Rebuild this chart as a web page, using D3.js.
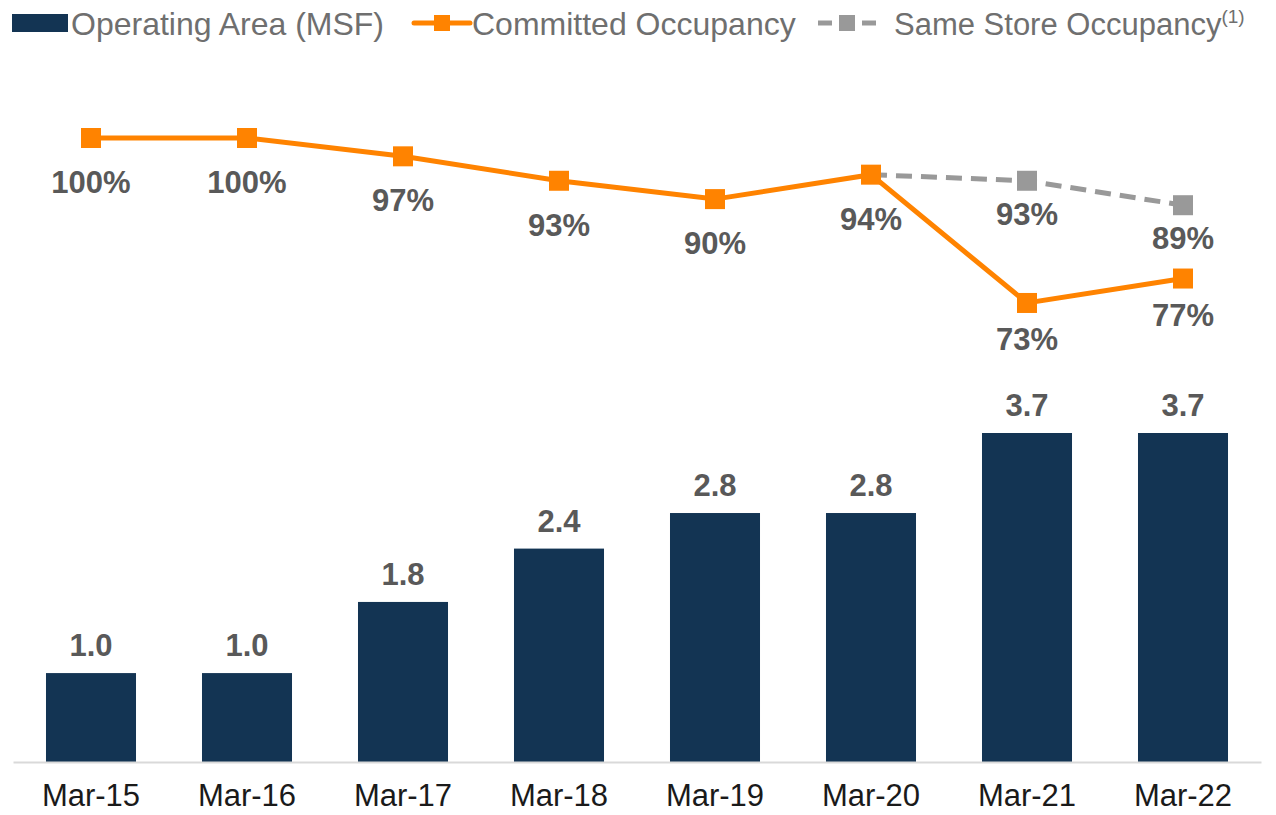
<!DOCTYPE html>
<html lang="en">
<head>
    <meta charset="UTF-8">
    <title>Operating Area and Occupancy</title>
    <script src="https://d3js.org/d3.v7.min.js"></script>
    <style>
        body { margin: 0; background: #fff; }
        text { font-family: "Liberation Sans", Arial, sans-serif; }
    </style>
</head>
<body>
    <script>
        const w = 1276;
        const h = 815;

        const periods = ["Mar-15", "Mar-16", "Mar-17", "Mar-18", "Mar-19", "Mar-20", "Mar-21", "Mar-22"];
        const operatingArea = [1.0, 1.0, 1.8, 2.4, 2.8, 2.8, 3.7, 3.7];
        const committedOcc = [100, 100, 97, 93, 90, 94, 73, 77];
        const sameStoreOcc = [null, null, null, null, null, 94, 93, 89];

        const navy = "#133453";
        const orange = "#ff8300";
        const grey = "#999999";

        const svg = d3.select("body")
            .append("svg")
            .attr("width", w)
            .attr("height", h);

        const x = d3.scaleBand()
            .domain(periods)
            .range([13, 1261])
            .paddingInner(0.423)
            .paddingOuter(0.2115);

        const yBar = d3.scaleLinear().domain([0, 3.7]).range([762, 433]);
        const yOcc = d3.scaleLinear().domain([0, 100]).range([749, 138]);

        // bars
        svg.selectAll("rect.bar")
            .data(operatingArea)
            .enter()
            .append("rect")
            .attr("class", "bar")
            .attr("x", (d, i) => x(periods[i]))
            .attr("y", d => yBar(d))
            .attr("width", x.bandwidth())
            .attr("height", d => yBar(0) - yBar(d))
            .attr("fill", navy);

        svg.selectAll("text.barlabel")
            .data(operatingArea)
            .enter()
            .append("text")
            .attr("class", "barlabel")
            .attr("x", (d, i) => x(periods[i]) + x.bandwidth() / 2)
            .attr("y", d => yBar(d) - 17)
            .attr("text-anchor", "middle")
            .attr("font-size", 31)
            .attr("font-weight", "bold")
            .attr("fill", "#595959")
            .text(d => d.toFixed(1));

        // x axis
        const xAxis = svg.append("g")
            .attr("transform", "translate(0,762)")
            .call(d3.axisBottom(x).tickSize(0).tickSizeOuter(0).tickPadding(22));
        xAxis.select(".domain").attr("stroke", "#d9d9d9").attr("stroke-width", 2);
        xAxis.selectAll("text")
            .attr("font-size", 31)
            .attr("fill", "#1a1a1a")
            .style("font-family", "'Liberation Sans', Arial, sans-serif");

        const cx = i => x(periods[i]) + x.bandwidth() / 2;

        // same store line (dashed)
        const ssPts = sameStoreOcc.map((v, i) => ({ v, i })).filter(d => d.v !== null);
        svg.append("path")
            .datum(ssPts)
            .attr("fill", "none")
            .attr("stroke", grey)
            .attr("stroke-width", 5)
            .attr("stroke-dasharray", "16,9")
            .attr("d", d3.line().x(d => cx(d.i)).y(d => yOcc(d.v)));

        svg.selectAll("rect.ssmark")
            .data(ssPts.slice(1))
            .enter()
            .append("rect")
            .attr("class", "ssmark")
            .attr("x", d => cx(d.i) - 10)
            .attr("y", d => yOcc(d.v) - 10)
            .attr("width", 20)
            .attr("height", 20)
            .attr("fill", grey);

        svg.selectAll("text.sslabel")
            .data(ssPts.slice(1))
            .enter()
            .append("text")
            .attr("class", "sslabel")
            .attr("x", d => cx(d.i))
            .attr("y", d => yOcc(d.v) + 44)
            .attr("text-anchor", "middle")
            .attr("font-size", 31)
            .attr("font-weight", "bold")
            .attr("fill", "#595959")
            .text(d => d.v + "%");

        // committed occupancy line
        svg.append("path")
            .datum(committedOcc)
            .attr("fill", "none")
            .attr("stroke", orange)
            .attr("stroke-width", 5)
            .attr("d", d3.line().x((d, i) => cx(i)).y(d => yOcc(d)));

        svg.selectAll("rect.cmark")
            .data(committedOcc)
            .enter()
            .append("rect")
            .attr("class", "cmark")
            .attr("x", (d, i) => cx(i) - 10)
            .attr("y", d => yOcc(d) - 10)
            .attr("width", 20)
            .attr("height", 20)
            .attr("fill", orange);

        svg.selectAll("text.clabel")
            .data(committedOcc)
            .enter()
            .append("text")
            .attr("class", "clabel")
            .attr("x", (d, i) => cx(i))
            .attr("y", d => yOcc(d) + (d < 80 ? 47 : 55))
            .attr("text-anchor", "middle")
            .attr("font-size", 31)
            .attr("font-weight", "bold")
            .attr("fill", "#595959")
            .text(d => d + "%");

        // legend
        const lg = svg.append("g");
        lg.append("rect").attr("x", 12).attr("y", 14).attr("width", 56).attr("height", 18).attr("fill", navy);
        lg.append("text").attr("x", 71).attr("y", 35).attr("font-size", 32).attr("fill", "#6f6f6f")
            .text("Operating Area (MSF)");

        lg.append("line").attr("x1", 414).attr("x2", 470).attr("y1", 23).attr("y2", 23)
            .attr("stroke", orange).attr("stroke-width", 5).attr("stroke-linecap", "round");
        lg.append("rect").attr("x", 434).attr("y", 15).attr("width", 16).attr("height", 16).attr("fill", orange);
        lg.append("text").attr("x", 472).attr("y", 35).attr("font-size", 32).attr("fill", "#6f6f6f")
            .text("Committed Occupancy");

        lg.append("line").attr("x1", 818).attr("x2", 876).attr("y1", 23).attr("y2", 23)
            .attr("stroke", grey).attr("stroke-width", 5).attr("stroke-dasharray", "14,8");
        lg.append("rect").attr("x", 839).attr("y", 15).attr("width", 16).attr("height", 16).attr("fill", grey);
        const ssText = lg.append("text").attr("x", 894).attr("y", 35).attr("font-size", 31).attr("fill", "#6f6f6f");
        ssText.append("tspan").text("Same Store Occupancy");
        ssText.append("tspan").attr("font-size", 19).attr("dy", -12).text("(1)");
    </script>
</body>
</html>
